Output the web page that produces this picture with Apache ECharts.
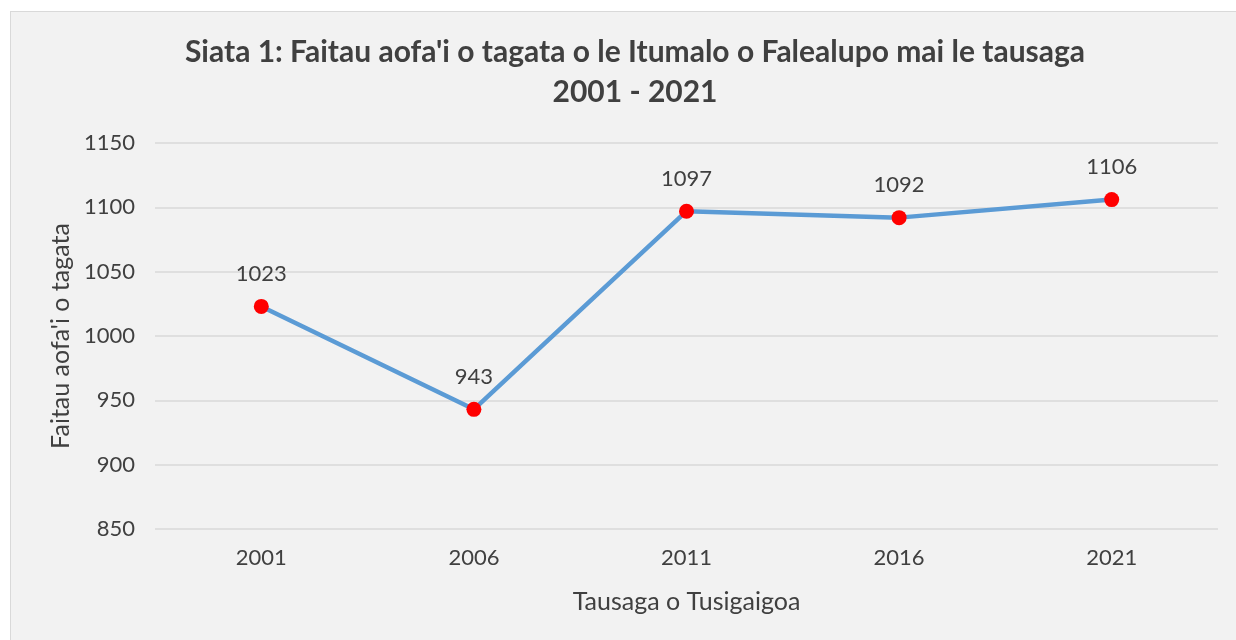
<!DOCTYPE html>
<html>
<head>
<meta charset="utf-8">
<script src="https://cdn.jsdelivr.net/npm/echarts@6/dist/echarts.min.js"></script>
<style>
html,body{margin:0;padding:0;background:#ffffff;}
#frame{position:absolute;left:10px;top:11px;width:1230px;height:640px;background:#f2f2f2;border:1px solid #d9d9d9;box-sizing:border-box;}
#chart{position:absolute;left:0;top:0;width:1236px;height:640px;}
</style>
</head>
<body>
<div id="frame"></div>
<div id="chart"></div>
<script>
const titleText = "Siata 1: Faitau aofa'i o tagata o le Itumalo o Falealupo mai le tausaga\n2001 - 2021";
const categories = ["2001", "2006", "2011", "2016", "2021"];
const population = [1023, 943, 1097, 1092, 1106];
const yAxisName = "Faitau aofa'i o tagata";
const xAxisName = "Tausaga o Tusigaigoa";

const FONT = "Lato, 'Open Sans', sans-serif";
const TXT = "#404040";
const chart = echarts.init(document.getElementById('chart'), null, {renderer: 'canvas'});
chart.setOption({
  backgroundColor: 'transparent',
  animation: false,
  title: {
    text: titleText,
    left: 630, top: 27, textAlign: 'center',
    textStyle: {fontFamily: FONT, fontWeight: 'bold', fontSize: 30, color: TXT, lineHeight: 40}
  },
  grid: {left: 155, right: 18, top: 143, bottom: 111, containLabel: false},
  xAxis: {
    type: 'category', data: categories, boundaryGap: true,
    axisLine: {show: false}, axisTick: {show: false},
    axisLabel: {fontFamily: FONT, fontSize: 22, color: TXT, margin: 18},
    name: xAxisName, nameLocation: 'middle', nameGap: 60,
    nameTextStyle: {fontFamily: FONT, fontSize: 25, color: TXT}
  },
  yAxis: {
    type: 'value', min: 850, max: 1150, interval: 50,
    axisLine: {show: false}, axisTick: {show: false},
    splitLine: {lineStyle: {color: '#d9d9d9', width: 1.5}},
    axisLabel: {fontFamily: FONT, fontSize: 22, color: TXT, margin: 20, formatter: v => String(v)},
    name: yAxisName, nameLocation: 'middle', nameGap: 80, nameRotate: 90,
    nameTextStyle: {fontFamily: FONT, fontSize: 25, color: TXT}
  },
  series: [{
    type: 'line', data: population,
    lineStyle: {color: '#5b9bd5', width: 4.5},
    itemStyle: {color: '#ff0000'},
    symbol: 'circle', symbolSize: 15,
    label: {show: true, position: 'top', distance: 14, fontFamily: FONT, fontSize: 22, color: TXT}
  }]
});
</script>
</body>
</html>
